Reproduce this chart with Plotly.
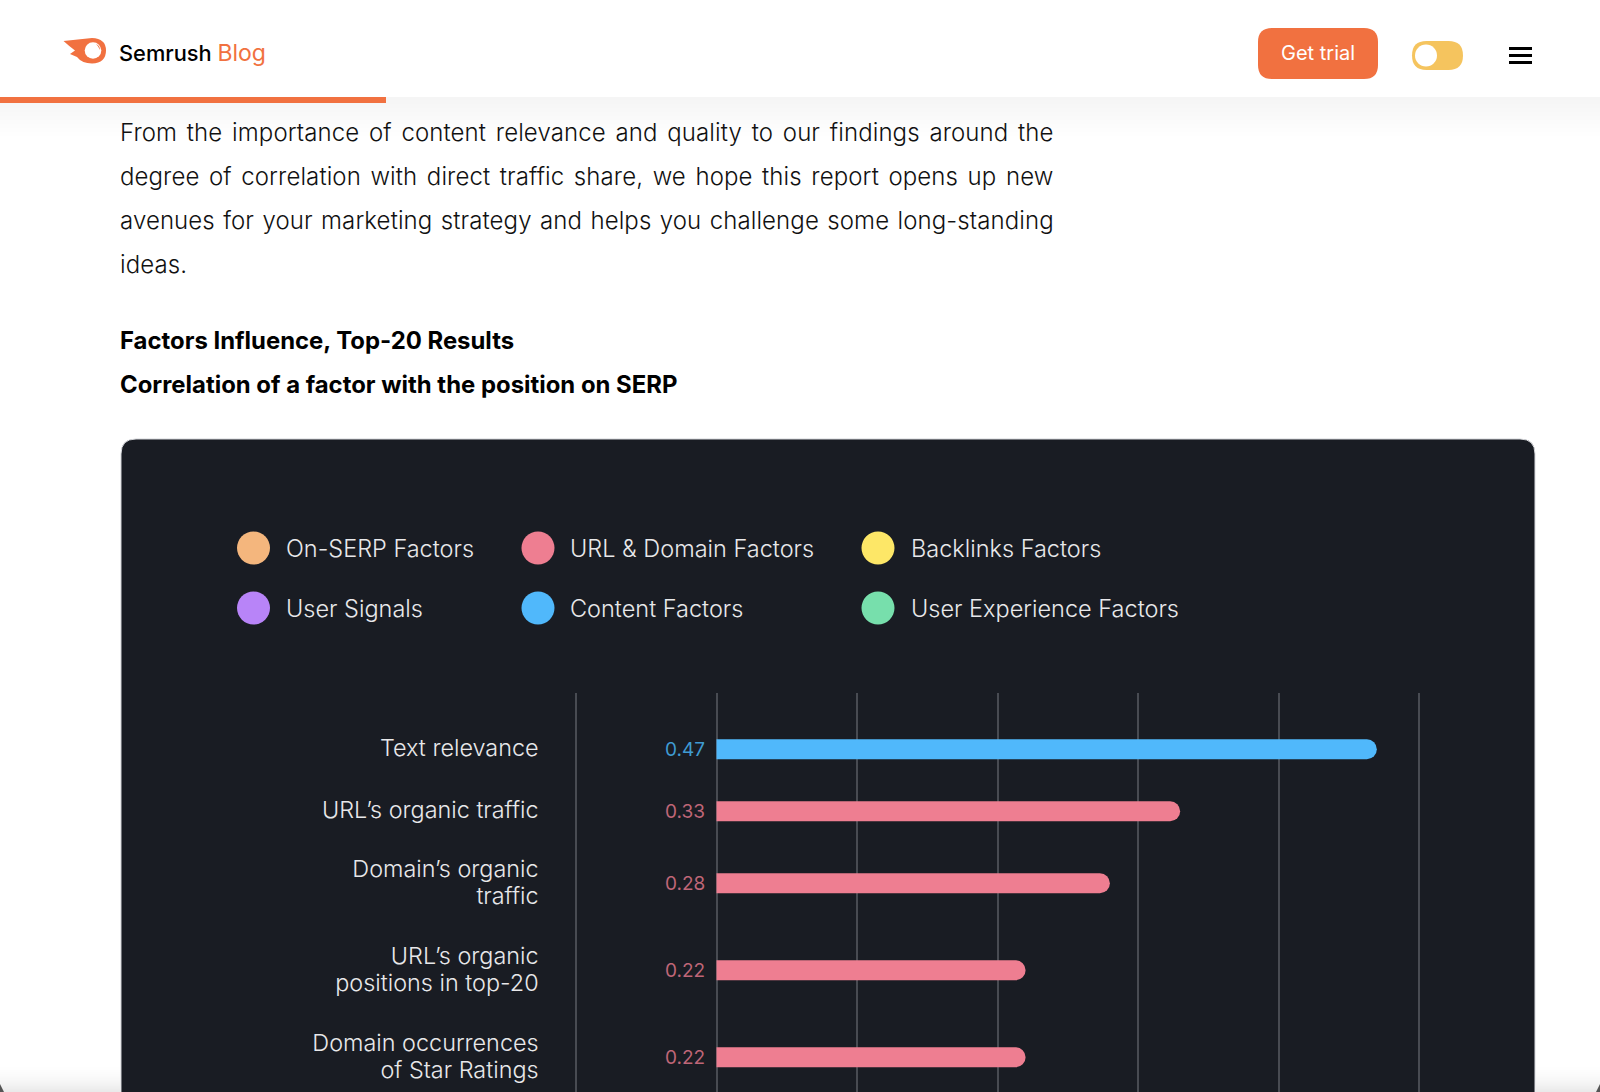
import plotly.graph_objects as go

W, H = 1600, 1092

factors = ['Text relevance', 'URL’s organic traffic', 'Domain’s organic<br>traffic',
           'URL’s organic<br>positions in top-20', 'Domain occurrences<br>of Star Ratings']
values = [0.47, 0.33, 0.28, 0.22, 0.22]
groups = ['Content Factors', 'URL & Domain Factors', 'URL & Domain Factors',
          'URL & Domain Factors', 'URL & Domain Factors']
grid_ticks = [-0.1, 0, 0.1, 0.2, 0.3, 0.4, 0.5]

legend_names = ['On-SERP Factors', 'URL & Domain Factors', 'Backlinks Factors',
                'User Signals', 'Content Factors', 'User Experience Factors']
legend_colors = ['#f4b67d', '#ee7e91', '#fde767', '#b884f8', '#50b8fb', '#77dfac']
label_colors = {'Content Factors': '#3f9bd2', 'URL & Domain Factors': '#bf6677'}
bar_colors = dict(zip(legend_names, legend_colors))

paragraph = ['From the importance of content relevance and quality to our findings around the',
             'degree of correlation with direct traffic share, we hope this report opens up new',
             'avenues for your marketing strategy and helps you challenge some long-standing',
             'ideas.']
word_gaps = [2.9, 2.7, 1.53, 0]
headings = ['Factors Influence, Top-20 Results', 'Correlation of a factor with the position on SERP']

orange = '#f17140'
card = '#191c23'
font = 'Inter'


def fx(x):
    return x / W


def fy(y):
    return 1 - y / H


def to_path(parts):
    # parts are (command, x, y, ...) in page pixels
    out = []
    for p in parts:
        nums = p[1:]
        xy = [f'{fx(v) if i % 2 == 0 else fy(v):.5f}' for i, v in enumerate(nums)]
        out.append(p[0] + ' ' + ' '.join(xy))
    return ' '.join(out)


def round_rect(x0, y0, x1, y1, r):
    return to_path([('M', x0 + r, y0), ('L', x1 - r, y0), ('Q', x1, y0, x1, y0 + r), ('L', x1, y1 - r),
                    ('Q', x1, y1, x1 - r, y1), ('L', x0 + r, y1), ('Q', x0, y1, x0, y1 - r), ('L', x0, y0 + r),
                    ('Q', x0, y0, x0 + r, y0), ('Z',)])


def rect(x0, y0, x1, y1, color):
    return dict(type='rect', xref='paper', yref='paper', x0=fx(x0), x1=fx(x1), y0=fy(y0), y1=fy(y1),
                fillcolor=color, line_width=0, layer='below')


def circle(cx, cy, r, color):
    return dict(type='circle', xref='paper', yref='paper', x0=fx(cx - r), x1=fx(cx + r), y0=fy(cy - r), y1=fy(cy + r),
                fillcolor=color, line_width=0, layer='below')


def path(d, color, line=None):
    return dict(type='path', xref='paper', yref='paper', path=d, fillcolor=color, layer='below',
                line=dict(color=line, width=1) if line else dict(width=0))


def label(x, y, text, size, color='#000000', weight=400, anchor='left'):
    return dict(xref='paper', yref='paper', x=fx(x), y=fy(y), text=text, showarrow=False, xanchor=anchor,
                yanchor='middle', align=anchor, borderpad=0,
                font=dict(family=font, size=size, color=color, weight=weight))


# rows are spaced by how many lines their labels have
row_gaps = {(1, 1): 62, (1, 2): 72, (2, 2): 87}
line_counts = [len(name.split('<br>')) for name in factors]
row_y = [56.3]
for a, b in zip(line_counts, line_counts[1:]):
    row_y.append(row_y[-1] + row_gaps[(a, b)])

# every label line is its own tick, the axis line height is too loose otherwise
line_y, line_text = [], []
for y, name in zip(row_y, factors):
    lines = name.split('<br>')
    shift = -2 if len(lines) == 1 else -1
    for k, t in enumerate(lines):
        line_y.append(y + shift + 27.5 * (k - (len(lines) - 1) / 2))
        line_text.append(t)

shapes = []
# shadow under the header
for k in range(40):
    shapes.append(rect(0, 97 + k, W, 98 + k, f'rgba(0,0,0,{0.04 * (1 - k / 40):.4f})'))
shapes.append(rect(0, 0, W, 97, '#ffffff'))
shapes.append(rect(0, 97, 386, 103, orange))

# logo
shapes.append(path(to_path([('M', 63.5, 41), ('L', 92, 38), ('Q', 106, 38.5, 106, 50.5), ('Q', 106, 63, 92, 63.5),
                            ('Q', 82, 63.5, 77, 57), ('L', 70, 54), ('L', 75, 50.5), ('Q', 69, 46, 63.5, 41), ('Z',)]), orange))
shapes.append(circle(93, 50.5, 8.3, '#ffffff'))
shapes.append(path(to_path([('M', 96, 44), ('Q', 100, 45.5, 100, 50), ('Q', 98.5, 46, 96, 44), ('Z',)]), orange))

# header controls
shapes.append(path(round_rect(1258, 28, 1378, 79, 14), orange))
shapes.append(path(round_rect(1412, 41, 1463, 70, 14.5), '#f5c45e'))
shapes.append(circle(1426, 55.5, 11, '#ffffff'))
for y in (48.5, 55.5, 62.5):
    shapes.append(rect(1509, y - 1.5, 1532, y + 1.5, '#000000'))

# card
shapes.append(path(round_rect(121, 439, 1535, 1140, 15), card, line='#d5d6da'))

# bottom fade of the screenshot
for k in range(30):
    a = 0.09 * (k / 30) ** 2
    shapes.append(rect(0, 1062 + k, 120, 1063 + k, f'rgba(0,0,0,{a:.4f})'))
    shapes.append(rect(1536, 1062 + k, W, 1063 + k, f'rgba(0,0,0,{a:.4f})'))
shapes.append(path(to_path([('M', 0, 1084), ('L', 0, 1092), ('L', 4, 1092), ('Z',)]), '#555555'))
shapes.append(path(to_path([('M', 1600, 1084), ('L', 1600, 1092), ('L', 1596, 1092), ('Z',)]), '#555555'))

annotations = [
    label(118, 52.5, f'Semrush <span style="color:{orange};font-weight:400;font-size:23px">Blog</span>', 21.8, weight=500),
    label(1318, 53, 'Get trial', 20, '#ffffff', 400, 'center'),
]

for y, line, gap in zip([132, 177, 221, 264.5], paragraph, word_gaps):
    annotations.append(label(119, y, f'<span style="word-spacing:{gap}px;letter-spacing:0.1px">{line}</span>', 24, '#111111', 300))
for y, line in zip([340, 384], headings):
    annotations.append(label(119, y, line, 23.9, '#000000', 700))

# legend, two rows of three
legend_x = [253.5, 538, 878]
legend_text_x = [285.4, 569.1, 909.9]
legend_y = [548, 608]
for i, (name, color) in enumerate(zip(legend_names, legend_colors)):
    cy = legend_y[i // 3]
    shapes.append(circle(legend_x[i % 3], cy, 16.5, color))
    annotations.append(label(legend_text_x[i % 3], cy, name, 23.5, '#e8e8ea', 300))

fig = go.Figure()
fig.add_trace(go.Bar(x=values, y=row_y, orientation='h', width=20,
                     marker=dict(color=[bar_colors[g] for g in groups], cornerradius=10, line_width=0),
                     hoverinfo='skip'))

for v, y, g in zip(values, row_y, groups):
    annotations.append(dict(x=0, y=y, xref='x', yref='y', text=f'{v:.2f}', showarrow=False, xanchor='right',
                            xshift=-10, font=dict(family=font, size=19, color=label_colors[g])))

fig.update_layout(
    width=W, height=H, margin=dict(l=0, r=0, t=0, b=0), autosize=False,
    paper_bgcolor='#ffffff', plot_bgcolor='rgba(0,0,0,0)', showlegend=False,
    shapes=shapes, annotations=annotations,
    # range runs a hair past the end ticks, plotly drops gridlines sitting on the edge
    xaxis=dict(domain=[fx(574.6), fx(1420.4)], range=[-0.101, 0.501], tickvals=grid_ticks, showticklabels=False,
               showgrid=True, gridcolor='#484b52', gridwidth=2, zeroline=False, ticks=''),
    yaxis=dict(domain=[0, fy(693)], range=[399, 0], tickvals=line_y, ticktext=line_text, showgrid=False,
               zeroline=False, ticks='', ticklabelstandoff=35,
               tickfont=dict(family=font, size=23.4, color='#e8e8ea', weight=300)),
)

fig.write_html('out.html', config={'displayModeBar': False},
               post_script="document.body.style.margin='0';document.body.style.overflow='hidden';")
